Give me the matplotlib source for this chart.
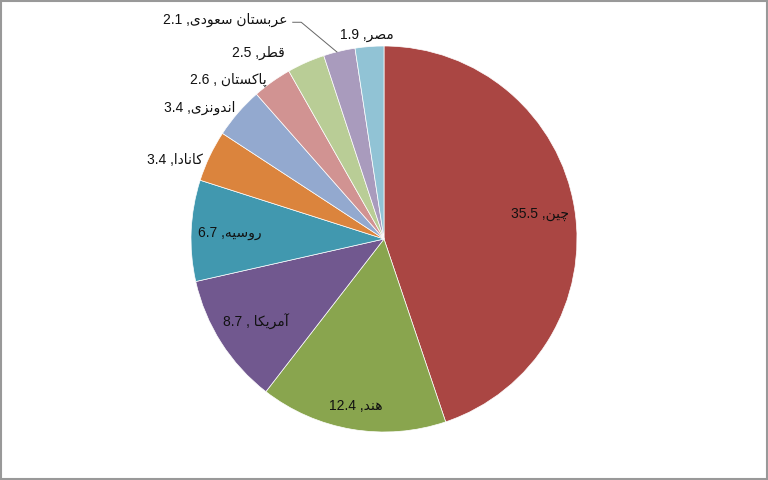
import matplotlib
matplotlib.use('Agg')
import matplotlib.pyplot as plt
import numpy as np
from matplotlib.patches import Rectangle

# ---- data ----
countries = ['چین', 'هند', 'آمریکا', 'روسیه', 'کانادا', 'اندونزی',
             'پاکستان', 'قطر', 'عربستان سعودی', 'مصر']
values = [35.5, 12.4, 8.7, 6.7, 3.4, 3.4, 2.6, 2.5, 2.1, 1.9]
value_labels = ['35.5', '12.4', '8.7', '6.7', '3.4', '3.4', '2.6', '2.5', '2.1', '1.9']
separators = [' ,', ' ,', ' , ', ' ,', ' ,', ' ,', ' , ', ' ,', ' ,', ' ,']

colors = ['#AA4643', '#89A54E', '#71588F', '#4198AF', '#DB843D',
          '#93A9CF', '#D19392', '#B9CD96', '#A99BBD', '#91C3D5']

# ---- minimal Persian shaping (matplotlib has no complex text layout) ----
FORMS = {
    'ا': ('\uFE8D', '\uFE8E', None, None),
    'آ': ('\uFE81', '\uFE82', None, None),
    'ب': ('\uFE8F', '\uFE90', '\uFE91', '\uFE92'),
    'پ': ('\uFB56', '\uFB57', '\uFB58', '\uFB59'),
    'ت': ('\uFE95', '\uFE96', '\uFE97', '\uFE98'),
    'چ': ('\uFB7A', '\uFB7B', '\uFB7C', '\uFB7D'),
    'د': ('\uFEA9', '\uFEAA', None, None),
    'ر': ('\uFEAD', '\uFEAE', None, None),
    'ز': ('\uFEAF', '\uFEB0', None, None),
    'س': ('\uFEB1', '\uFEB2', '\uFEB3', '\uFEB4'),
    'ص': ('\uFEB9', '\uFEBA', '\uFEBB', '\uFEBC'),
    'ط': ('\uFEC1', '\uFEC2', '\uFEC3', '\uFEC4'),
    'ع': ('\uFEC9', '\uFECA', '\uFECB', '\uFECC'),
    'ق': ('\uFED5', '\uFED6', '\uFED7', '\uFED8'),
    'ک': ('\uFB8E', '\uFB8F', '\uFB90', '\uFB91'),
    'م': ('\uFEE1', '\uFEE2', '\uFEE3', '\uFEE4'),
    'ن': ('\uFEE5', '\uFEE6', '\uFEE7', '\uFEE8'),
    'ه': ('\uFEE9', '\uFEEA', '\uFEEB', '\uFEEC'),
    'و': ('\uFEED', '\uFEEE', None, None),
    'ی': ('\uFBFC', '\uFBFD', '\uFBFE', '\uFBFF'),
}


def shape(text):
    out = []
    n = len(text)
    for i, ch in enumerate(text):
        if ch not in FORMS:
            out.append(ch)
            continue
        iso, fin, ini, med = FORMS[ch]
        prev = text[i - 1] if i > 0 else None
        nxt = text[i + 1] if i < n - 1 else None
        jp = prev in FORMS and FORMS[prev][2] is not None
        jn = ini is not None and nxt in FORMS
        if jp and jn:
            out.append(med)
        elif jp:
            out.append(fin)
        elif jn:
            out.append(ini)
        else:
            out.append(iso)
    return ''.join(reversed(out))


labels = [v + s + shape(c) for c, v, s in zip(countries, value_labels, separators)]

# ---- figure ----
W, H = 768, 481
fig = plt.figure(figsize=(W / 100, H / 100), dpi=100)
ax = fig.add_axes([0, 0, 1, 1])
FAM = ['Liberation Sans', 'DejaVu Sans']

cx, cy, R = 384, 241, 193
wedges, _ = ax.pie(values, colors=colors, startangle=90, counterclock=False,
                   center=(cx, cy), radius=R,
                   wedgeprops=dict(edgecolor='white', linewidth=0.5))
ax.set_xlim(0, W)
ax.set_ylim(0, H)
ax.set_aspect('auto')
ax.axis('off')

# label placement: ('in', radius_fraction) or ('out', dx_px, dy_px, ha)
placement = [
    ('in', 0.82),
    ('in', 0.87),
    ('in', 0.79),
    ('in', 0.80),
    ('out', -7, -3, 'right'),
    ('out', -3, 6, 'right'),
    ('out', -5, 3, 'right'),
    ('out', -21, 11, 'right'),
    ('out', -52, 32, 'right'),
    ('out', -3, 13, 'center'),
]

for i, (w, lab, pl) in enumerate(zip(wedges, labels, placement)):
    mid = np.deg2rad((w.theta1 + w.theta2) / 2)
    if pl[0] == 'in':
        r = pl[1] * R
        x, y = cx + r * np.cos(mid), cy + r * np.sin(mid)
        ax.text(x, y, lab, ha='center', va='center', fontsize=10,
                family=FAM, color='#111111')
    else:
        ex, ey = cx + R * np.cos(mid), cy + R * np.sin(mid)
        x, y = ex + pl[1], ey + pl[2]
        ax.text(x, y, lab, ha=pl[3], va='center', fontsize=10,
                family=FAM, color='#111111')
        if i == 8:  # leader line for Saudi Arabia label
            ax.plot([x + 5, x + 14, ex - 2], [y - 3, y - 3, ey - 1],
                    color='#666666', lw=0.7, solid_capstyle='butt')

# outer frame
ax.add_patch(Rectangle((1, 1), W - 2.5, H - 2.5, fill=False,
                       edgecolor='#999999', lw=1.5, clip_on=False))

fig.savefig('out.png', dpi=100)
